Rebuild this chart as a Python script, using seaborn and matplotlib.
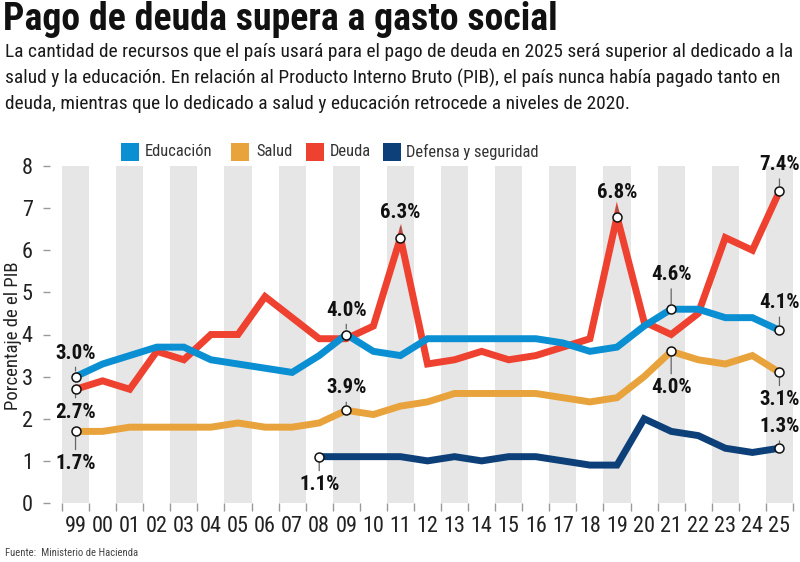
import numpy as np
import pandas as pd
import matplotlib
matplotlib.use("Agg")
import matplotlib.pyplot as plt
import seaborn as sns
from matplotlib import font_manager as fm
from matplotlib.patches import Rectangle

# ---------------- data ----------------
years = ["99", "00", "01", "02", "03", "04", "05", "06", "07", "08", "09", "10", "11",
         "12", "13", "14", "15", "16", "17", "18", "19", "20", "21", "22", "23", "24", "25"]
educacion = [3.0, 3.3, 3.5, 3.7, 3.7, 3.4, 3.3, 3.2, 3.1, 3.5, 4.0, 3.6, 3.5,
             3.9, 3.9, 3.9, 3.9, 3.9, 3.8, 3.6, 3.7, 4.2, 4.6, 4.6, 4.4, 4.4, 4.1]
salud = [1.7, 1.7, 1.8, 1.8, 1.8, 1.8, 1.9, 1.8, 1.8, 1.9, 2.2, 2.1, 2.3,
         2.4, 2.6, 2.6, 2.6, 2.6, 2.5, 2.4, 2.5, 3.0, 3.6, 3.4, 3.3, 3.5, 3.1]
deuda = [2.7, 2.9, 2.7, 3.6, 3.4, 4.0, 4.0, 4.9, 4.4, 3.9, 3.9, 4.2, 6.3,
         3.3, 3.4, 3.6, 3.4, 3.5, 3.7, 3.9, 6.8, 4.3, 4.0, 4.5, 6.3, 6.0, 7.4]
defensa = [np.nan] * 9 + [1.1, 1.1, 1.1, 1.1, 1.0, 1.1, 1.0, 1.1, 1.1, 1.0, 0.9, 0.9,
                          2.0, 1.7, 1.6, 1.3, 1.2, 1.3]
series_names = ["Deuda", "Salud", "Defensa y seguridad", "Educación"]
legend_order = ["Educación", "Salud", "Deuda", "Defensa y seguridad"]
colors = {"Educación": "#0a8fd3", "Salud": "#e8a33c", "Deuda": "#ef4130",
          "Defensa y seguridad": "#0d4079"}
y_ticks = [0, 1, 2, 3, 4, 5, 6, 7, 8]

# annotations: (series, year, label, text y)
annotations = [
    ("Educación", "99", "3.0%", 3.56),
    ("Deuda", "99", "2.7%", 2.16),
    ("Salud", "99", "1.7%", 0.93),
    ("Educación", "09", "4.0%", 4.58),
    ("Salud", "09", "3.9%", 2.73),
    ("Defensa y seguridad", "08", "1.1%", 0.43),
    ("Deuda", "11", "6.3%", 6.89),
    ("Deuda", "19", "6.8%", 7.36),
    ("Educación", "21", "4.6%", 5.42),
    ("Salud", "21", "4.0%", 2.73),
    ("Deuda", "25", "7.4%", 8.03),
    ("Educación", "25", "4.1%", 4.75),
    ("Salud", "25", "3.1%", 2.45),
    ("Defensa y seguridad", "25", "1.3%", 1.81),
]

values = {"Educación": educacion, "Salud": salud, "Deuda": deuda,
          "Defensa y seguridad": defensa}
rows = []
for name in series_names:
    for i, (yr, v) in enumerate(zip(years, values[name])):
        rows.append({"idx": i, "year": yr, "serie": name, "valor": v})
df = pd.DataFrame(rows).dropna()

# ---------------- style ----------------
sns.set_style("white")
avail = {f.name for f in fm.fontManager.ttflist}
cond = next((f for f in ["Liberation Sans Narrow", "DejaVu Sans Condensed",
                         "Roboto Condensed", "Open Sans Condensed", "Roboto"]
             if f in avail), "DejaVu Sans")
plt.rcParams["font.family"] = [cond, "DejaVu Sans"]

W, H = 800, 562
fig = plt.figure(figsize=(W / 100, H / 100), dpi=100)
px_l, px_r, px_t, px_b = 62, 793, 166, 503
ax = fig.add_axes([px_l / W, 1 - px_b / H, (px_r - px_l) / W, (px_b - px_t) / H])

n = len(years)
for i in range(0, n, 2):
    ax.axvspan(i - 0.5, i + 0.5, color="#e6e6e6", lw=0, zorder=0)

for k, name in enumerate(series_names):
    sub = df[df["serie"] == name]
    sns.lineplot(data=sub, x="idx", y="valor", color=colors[name], linewidth=5,
                 ax=ax, legend=False, sort=True, zorder=2 + k,
                 solid_joinstyle="miter")

ax.set_xlim(-0.5, n - 0.5)
ax.set_ylim(0, 8)
for s in ax.spines.values():
    s.set_visible(False)
ax.spines["left"].set_position(("outward", 9))
ax.set_xlabel("")
ax.set_ylabel("")

ax.set_xticks(range(n))
ax.set_xticklabels(years)
ax.set_xticks(np.arange(-0.5, n, 1.0), minor=True)
ax.tick_params(axis="x", which="major", length=0, pad=9, labelsize=16, labelcolor="#222222")
ax.tick_params(axis="x", which="minor", length=6, width=1, color="#999999", bottom=True)
ax.set_yticks(y_ticks)
ax.tick_params(axis="y", which="major", length=5, width=1, color="#999999", pad=7,
               labelsize=16, labelcolor="#222222", left=True)

# annotations
yidx = {y: i for i, y in enumerate(years)}
for name, yr, lab, ty in annotations:
    i = yidx[yr]
    v = values[name][i]
    ax.annotate(lab, xy=(i, v), xytext=(i, ty), ha="center", va="center",
                fontsize=15, fontweight="bold", color="#111111",
                arrowprops=dict(arrowstyle="-", color="#666666", lw=0.9,
                                shrinkA=1, shrinkB=4),
                annotation_clip=False, zorder=10)
    ax.scatter([i], [v], s=42, facecolor="white", edgecolor="#111111",
               linewidth=1.1, zorder=11, clip_on=False)

# texts
def fit(t, width_px):
    r = fig.canvas.get_renderer()
    w = t.get_window_extent(r).width
    t.set_fontsize(t.get_fontsize() * width_px / w)

title = fig.text(3 / W, 1 - 20 / H, "Pago de deuda supera a gasto social",
                 fontsize=30, fontweight=900, color="#111111", va="center", ha="left")
fit(title, 554)

sub_lines = [
    "La cantidad de recursos que el país usará para el pago de deuda en 2025 será superior al dedicado a la",
    "salud y la educación. En relación al Producto Interno Bruto (PIB), el país nunca había pagado tanto en",
    "deuda, mientras que lo dedicado a salud y educación retrocede a niveles de 2020.",
]
sub_y = [52, 78, 104]
subs = []
for line, yy in zip(sub_lines, sub_y):
    subs.append(fig.text(5 / W, 1 - yy / H, line, fontsize=14, color="#1a1a1a",
                         va="center", ha="left"))
fit(subs[0], 790)
for t in subs[1:]:
    t.set_fontsize(subs[0].get_fontsize())

# legend
sq_x = [121, 231, 306, 383]
tx_x = [145, 256, 330, 406]
leg_texts = []
for name, sx, tx in zip(legend_order, sq_x, tx_x):
    fig.patches.append(Rectangle((sx / W, 1 - 161 / H), 18 / W, 18 / H,
                                 transform=fig.transFigure, facecolor=colors[name],
                                 edgecolor="none"))
    leg_texts.append(fig.text(tx / W, 1 - 152 / H, name, fontsize=13, color="#333333",
                              va="center", ha="left"))
fit(leg_texts[3], 132)
for t in leg_texts[:3]:
    t.set_fontsize(leg_texts[3].get_fontsize())

ylab = fig.text(13 / W, 1 - 336 / H, "Porcentaje de el PIB", rotation=90,
                fontsize=13.5, color="#222222", va="center", ha="center")

src = fig.text(5 / W, 1 - 553 / H, "Fuente:  Ministerio de Hacienda", fontsize=8,
               color="#444444", va="center", ha="left")
fit(src, 133)

fig.savefig("out.png", dpi=100)
